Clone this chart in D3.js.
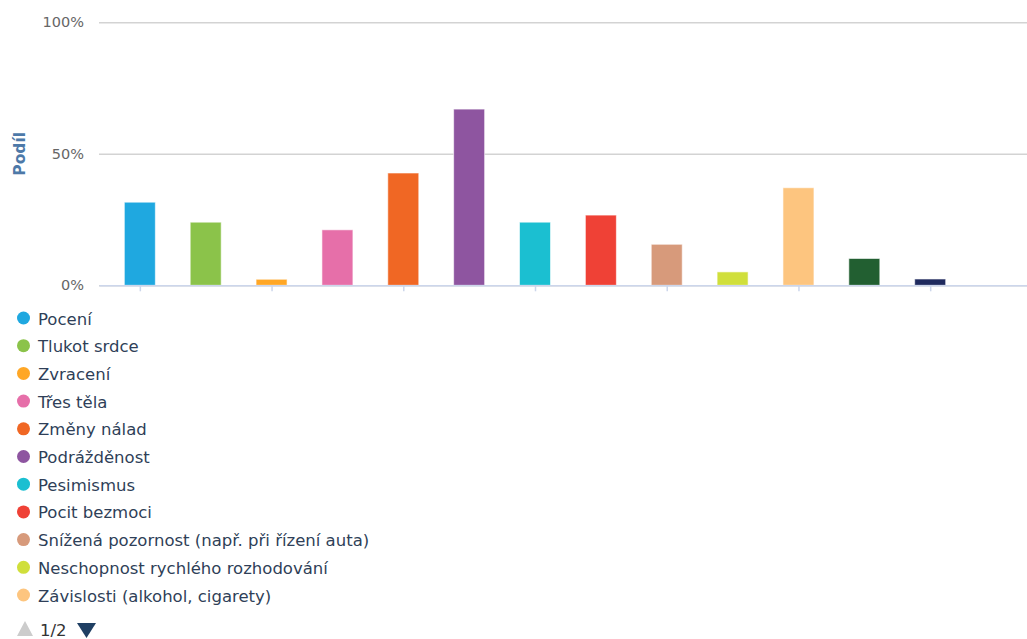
<!DOCTYPE html>
<html>
<head>
<meta charset="utf-8">
<script src="https://cdn.jsdelivr.net/npm/d3@7/dist/d3.min.js"></script>
<style>
  html, body { margin: 0; padding: 0; background: #fff; }
  svg { display: block; font-family: "DejaVu Sans", sans-serif; }
</style>
</head>
<body>
<svg id="chart" width="1027" height="639"></svg>
<script>
// Symptom names (legend page 1 of 2 lists the first eleven)
const symptoms = [
  "Pocení",
  "Tlukot srdce",
  "Zvracení",
  "Třes těla",
  "Změny nálad",
  "Podrážděnost",
  "Pesimismus",
  "Pocit bezmoci",
  "Snížená pozornost (např. při řízení auta)",
  "Neschopnost rychlého rozhodování",
  "Závislosti (alkohol, cigarety)",
  "",
  ""
];
// Share of respondents, in percent
const shares = [31.6, 24.0, 2.3, 21.1, 42.7, 67.0, 24.0, 26.7, 15.6, 5.1, 37.1, 10.2, 2.4];
const colors = ["#1fa8e0", "#8bc34a", "#ffa726", "#e66fa9", "#f06724", "#8e55a0",
                "#1bbfd1", "#ef4136", "#d79a7b", "#d0df3b", "#fdc57f", "#225f31", "#1f2a5e"];
const yTicks = [0, 50, 100];
const legendPage = "1/2";
const legendCount = 11;

const svg = d3.select("#chart");
const plot = { left: 99, right: 1027, top: 22.3, bottom: 285.3 };

const x = d3.scaleLinear().domain([-0.62, 13.47]).range([plot.left, plot.right]);
const y = d3.scaleLinear().domain([0, 100]).range([plot.bottom, plot.top]);

// Horizontal gridlines and percent labels
const yAxis = d3.axisLeft(y).tickValues(yTicks).tickFormat(d => d + "%")
  .tickSize(-(plot.right - plot.left)).tickPadding(15);
const gy = svg.append("g").attr("transform", `translate(${plot.left},0)`).call(yAxis);
gy.select(".domain").remove();
gy.selectAll(".tick line").attr("stroke", "#d3d3d3").attr("stroke-width", 1.5);
gy.selectAll(".tick text").attr("fill", "#666").style("font-size", "14.5px")
  .style("font-family", "'DejaVu Sans', sans-serif");

// Axis title
svg.append("text")
  .attr("transform", `translate(25,${(plot.top + plot.bottom) / 2}) rotate(-90)`)
  .attr("text-anchor", "middle")
  .attr("fill", "#4d79a8")
  .style("font-size", "15.5px")
  .style("font-weight", "bold")
  .text("Podíl");

// Bars
const barW = 31;
svg.append("g").selectAll("rect")
  .data(shares)
  .join("rect")
  .attr("x", (d, i) => x(i) - barW / 2)
  .attr("y", d => y(d))
  .attr("width", barW)
  .attr("height", d => y(0) - y(d))
  .attr("fill", (d, i) => colors[i])
  .attr("stroke", "#fff")
  .attr("stroke-opacity", 0.6)
  .attr("stroke-width", 1);

// Bottom axis line with tick marks
const xAxis = d3.axisBottom(x).tickValues(d3.range(0, 13, 2)).tickFormat("").tickSizeInner(6).tickSizeOuter(0);
const gx = svg.append("g").attr("transform", `translate(0,${plot.bottom})`).call(xAxis);
gx.select(".domain").attr("stroke", "#ccd6eb").attr("stroke-width", 1.5);
gx.selectAll(".tick line").attr("stroke", "#ccd6eb").attr("stroke-width", 1.5);

// Legend
const legend = svg.append("g");
const rowY = i => 319 + i * 27.7;
const items = legend.selectAll("g")
  .data(d3.range(legendCount))
  .join("g")
  .attr("transform", i => `translate(0,${rowY(i)})`);
items.append("circle").attr("cx", 23.5).attr("cy", -1).attr("r", 6.5)
  .attr("fill", i => colors[i]);
items.append("text").attr("x", 38).attr("y", 5.5)
  .attr("fill", "#2f3f58")
  .style("font-size", "16.5px")
  .text(i => symptoms[i]);

// Legend paging controls
const navY = 629;
svg.append("path")
  .attr("d", `M17,${navY + 7} L33,${navY + 7} L25,${navY - 8} Z`)
  .attr("fill", "#cccccc");
svg.append("text").attr("x", 40).attr("y", navY + 7)
  .attr("fill", "#333")
  .style("font-size", "16.5px")
  .text(legendPage);
svg.append("path")
  .attr("d", `M77,${navY - 6} L96,${navY - 6} L86.5,${navY + 9} Z`)
  .attr("fill", "#1f3f63");
</script>
</body>
</html>
